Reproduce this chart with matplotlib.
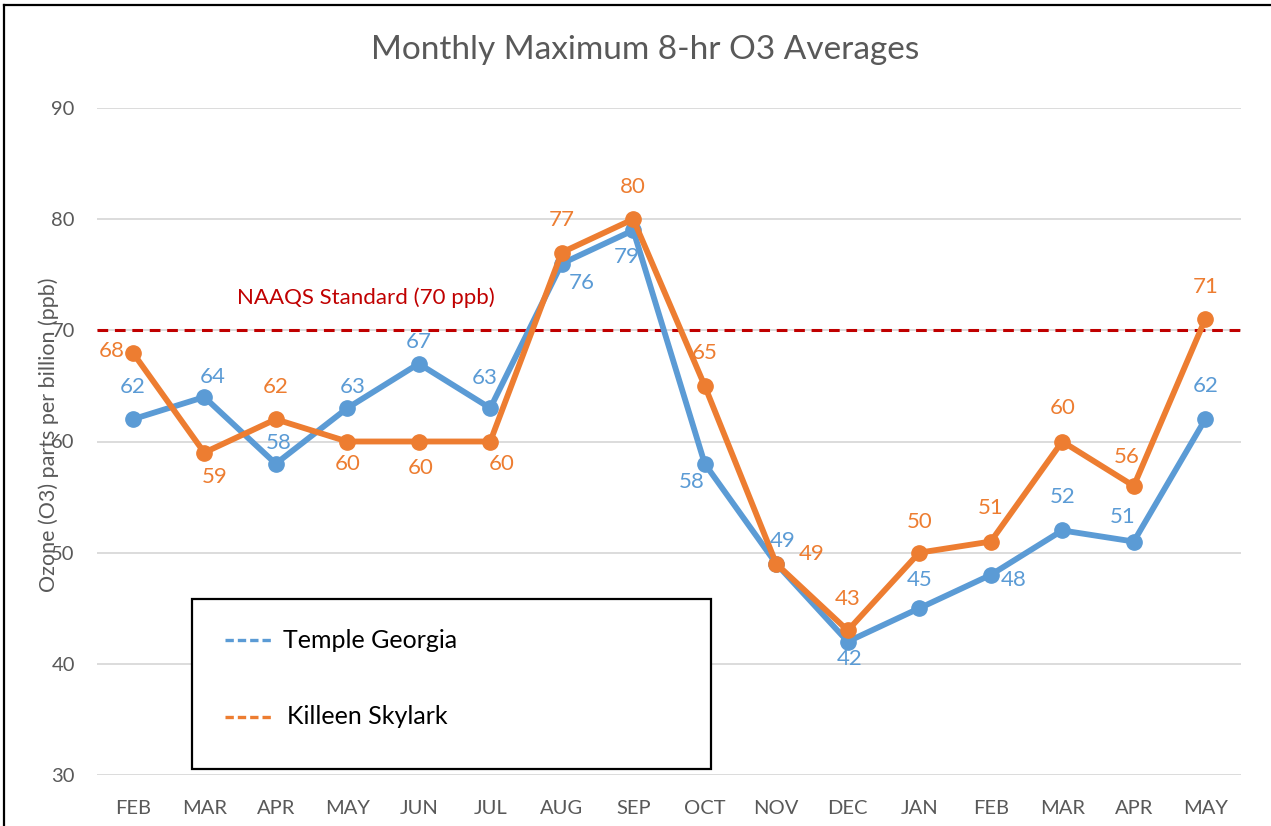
import matplotlib
matplotlib.use("Agg")
import matplotlib.pyplot as plt
from matplotlib.lines import Line2D
from matplotlib.patches import Rectangle

plt.rcParams['font.family'] = ['Lato', 'DejaVu Sans']

months = ["FEB", "MAR", "APR", "MAY", "JUN", "JUL", "AUG", "SEP",
          "OCT", "NOV", "DEC", "JAN", "FEB", "MAR", "APR", "MAY"]
temple = [62, 64, 58, 63, 67, 63, 76, 79, 58, 49, 42, 45, 48, 52, 51, 62]
killeen = [68, 59, 62, 60, 60, 60, 77, 80, 65, 49, 43, 50, 51, 60, 56, 71]
naaqs = 70
title = "Monthly Maximum 8-hr O3 Averages"
ylabel = "Ozone (O3) parts per billion (ppb)"
naaqs_label = "NAAQS Standard (70 ppb)"
series_names = ["Temple Georgia", "Killeen Skylark"]

# label offsets in pixels (dx, dy)
temple_off = [(0, 32), (8, 20), (3, 21), (5, 21), (0, 22), (-6, 30), (20, -19), (-7, -27),
              (-13, -18), (6, 23), (2, -17), (0, 28), (23, -5), (0, 33), (-11, 25), (0, 33)]
killeen_off = [(-21, 2), (10, -24), (0, 32), (0, -22), (2, -26), (11, -22), (0, 33), (0, 32),
               (0, 33), (35, 10), (0, 31), (0, 31), (0, 34), (0, 33), (-7, 29), (0, 32)]

BLUE = "#5B9BD5"
ORANGE = "#ED7D31"
RED = "#C00000"
GRAY = "#595959"

W, H = 1271, 826
fig = plt.figure(figsize=(W / 100, H / 100), dpi=100)
ax = fig.add_axes([97 / W, 1 - 775 / H, (1241 - 97) / W, (775 - 108) / H])

x = list(range(len(months)))
ax.set_xlim(-0.5, len(months) - 0.5)
ax.set_ylim(30, 90)
ax.set_yticks([30, 40, 50, 60, 70, 80, 90])
ax.set_xticks(x)
ax.set_xticklabels(months)
ax.grid(axis='y', color="#D9D9D9", linewidth=1.3, zorder=0)
ax.set_axisbelow(True)
for s in ax.spines.values():
    s.set_visible(False)
ax.tick_params(axis='both', length=0, colors=GRAY, labelsize=14.5)
ax.tick_params(axis='x', pad=18)
ax.tick_params(axis='y', pad=16)

ax.axhline(naaqs, color=RED, linestyle=(0, (3.5, 2.2)), linewidth=2.2, zorder=2)
fig.text(366 / W, 1 - 298 / H, naaqs_label, color=RED, fontsize=16,
         ha='center', va='center')

ax.plot(x, temple, color=BLUE, linewidth=4.2, marker='o', markersize=11,
        solid_capstyle='round', zorder=3)
ax.plot(x, killeen, color=ORANGE, linewidth=4.2, marker='o', markersize=11,
        solid_capstyle='round', zorder=4)

for xi, v, (dx, dy) in zip(x, temple, temple_off):
    ax.annotate(str(v), (xi, v), xytext=(dx, dy), textcoords='offset pixels',
                ha='center', va='center', color=BLUE, fontsize=16, zorder=5)
for xi, v, (dx, dy) in zip(x, killeen, killeen_off):
    ax.annotate(str(v), (xi, v), xytext=(dx, dy), textcoords='offset pixels',
                ha='center', va='center', color=ORANGE, fontsize=16, zorder=5)

# small leader line for the Temple NOV label
ax.annotate("", (9, 49), xytext=(-3, 6), textcoords='offset pixels',
            arrowprops=dict(arrowstyle='-', color='#A6A6A6', lw=1.2,
                            shrinkA=0, shrinkB=0))

# title and y label
fig.text(645 / W, 1 - 50 / H, title, ha='center', va='center', fontsize=24, color=GRAY)
fig.text(49 / W, 1 - 435 / H, ylabel, ha='center', va='center', rotation=90,
         fontsize=15.5, color=GRAY)

# custom legend box
fig.add_artist(Rectangle((192 / W, 1 - 769 / H), (711 - 192) / W, (769 - 599) / H,
                         transform=fig.transFigure, facecolor='white', edgecolor='black',
                         linewidth=1.6, zorder=10))
for (name, col, yy, tx) in [(series_names[0], BLUE, 640, 283), (series_names[1], ORANGE, 717, 287)]:
    fig.add_artist(Line2D([225 / W, 272 / W], [1 - yy / H, 1 - yy / H], transform=fig.transFigure,
                          color=col, linestyle=(0, (2.5, 1.2)), linewidth=2.4, zorder=11))
    fig.text(tx / W, 1 - yy / H, name, ha='left', va='center', fontsize=18,
             color='black', zorder=11)

# figure border (top and left)
fig.add_artist(Line2D([4 / W, 1], [1 - 5 / H, 1 - 5 / H], transform=fig.transFigure,
                      color='black', linewidth=1.6))
fig.add_artist(Line2D([4 / W, 4 / W], [0, 1 - 5 / H], transform=fig.transFigure,
                      color='black', linewidth=1.6))

fig.savefig("out.png", dpi=100)
